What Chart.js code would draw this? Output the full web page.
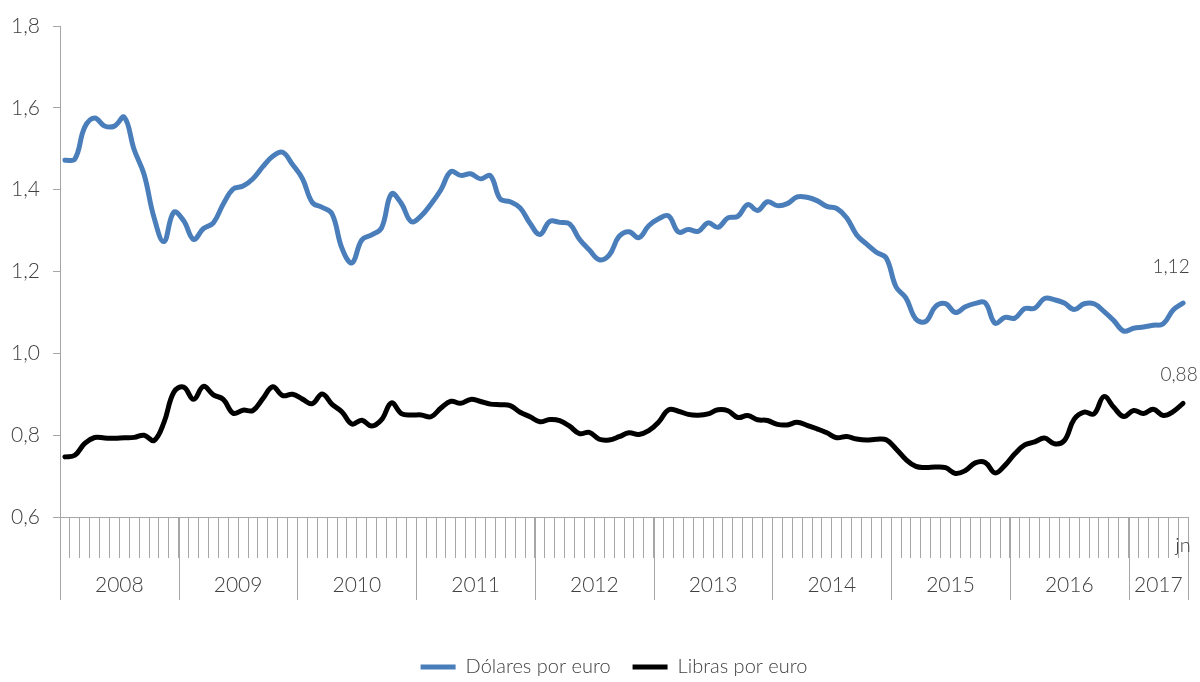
<!DOCTYPE html>
<html>
<head>
<meta charset="utf-8">
<script src="https://cdn.jsdelivr.net/npm/chart.js@4.4.1/dist/chart.umd.min.js"></script>
<style>
  html, body { margin: 0; padding: 0; background: #ffffff; }
  #wrap { width: 1200px; height: 682px; }
</style>
</head>
<body>
<div id="wrap"><canvas id="c" width="1200" height="682"></canvas></div>
<script>
// ---- Data ----
const years = ['2008', '2009', '2010', '2011', '2012', '2013', '2014', '2015', '2016', '2017'];
const monthsPerYear = [12, 12, 12, 12, 12, 12, 12, 12, 12, 6];
const monthCodes = ['en', 'fb', 'mr', 'ab', 'my', 'jn', 'jl', 'ag', 'sp', 'oc', 'nv', 'dc'];
const lastMonthLabel = 'jn';

const dolaresPorEuro = [
  1.4718, 1.4748, 1.5527, 1.5750, 1.5557, 1.5553, 1.5770, 1.4975, 1.4370, 1.3322, 1.2732, 1.3449,
  1.3239, 1.2785, 1.3050, 1.3190, 1.3650, 1.4016, 1.4088, 1.4268, 1.4562, 1.4816, 1.4914, 1.4614,
  1.4272, 1.3686, 1.3569, 1.3406, 1.2565, 1.2209, 1.2770, 1.2894, 1.3067, 1.3898, 1.3661, 1.3220,
  1.3360, 1.3649, 1.3999, 1.4442, 1.4349, 1.4388, 1.4264, 1.4343, 1.3770, 1.3706, 1.3556, 1.3179,
  1.2905, 1.3224, 1.3201, 1.3162, 1.2789, 1.2526, 1.2288, 1.2400, 1.2856, 1.2974, 1.2828, 1.3119,
  1.3288, 1.3359, 1.2964, 1.3026, 1.2982, 1.3189, 1.3080, 1.3310, 1.3348, 1.3635, 1.3493, 1.3704,
  1.3610, 1.3659, 1.3823, 1.3813, 1.3732, 1.3592, 1.3539, 1.3316, 1.2901, 1.2673, 1.2472, 1.2331,
  1.1621, 1.1350, 1.0838, 1.0779, 1.1150, 1.1213, 1.0996, 1.1139, 1.1221, 1.1235, 1.0736, 1.0877,
  1.0860, 1.1093, 1.1100, 1.1339, 1.1311, 1.1229, 1.1069, 1.1212, 1.1212, 1.1026, 1.0799, 1.0543,
  1.0614, 1.0643, 1.0685, 1.0723, 1.1058, 1.1229
];

const librasPorEuro = [
  0.7470, 0.7509, 0.7801, 0.7943, 0.7930, 0.7922, 0.7937, 0.7946, 0.7999, 0.7869, 0.8306, 0.9050,
  0.9176, 0.8876, 0.9192, 0.8986, 0.8876, 0.8536, 0.8611, 0.8603, 0.8891, 0.9182, 0.8967, 0.9000,
  0.8881, 0.8770, 0.9007, 0.8752, 0.8567, 0.8272, 0.8366, 0.8224, 0.8380, 0.8789, 0.8529, 0.8492,
  0.8494, 0.8450, 0.8665, 0.8829, 0.8779, 0.8874, 0.8823, 0.8759, 0.8743, 0.8721, 0.8560, 0.8451,
  0.8328, 0.8384, 0.8357, 0.8219, 0.8037, 0.8069, 0.7901, 0.7883, 0.7962, 0.8058, 0.8019, 0.8109,
  0.8319, 0.8619, 0.8586, 0.8508, 0.8489, 0.8519, 0.8621, 0.8596, 0.8432, 0.8479, 0.8377, 0.8359,
  0.8263, 0.8251, 0.8314, 0.8242, 0.8155, 0.8058, 0.7938, 0.7967, 0.7907, 0.7880, 0.7899, 0.7886,
  0.7663, 0.7405, 0.7236, 0.7212, 0.7223, 0.7204, 0.7064, 0.7135, 0.7323, 0.7333, 0.7078, 0.7262,
  0.7544, 0.7761, 0.7834, 0.7928, 0.7789, 0.7866, 0.8393, 0.8564, 0.8521, 0.8945, 0.8681, 0.8456,
  0.8603, 0.8529, 0.8631, 0.8483, 0.8577, 0.8777
];

const seriesNames = ['Dólares por euro', 'Libras por euro'];
const yMin = 0.6, yMax = 1.8, yStep = 0.2;

// categories built from years / months
const categories = [];
years.forEach((yr, yi) => {
  for (let m = 0; m < monthsPerYear[yi]; m++) categories.push(monthCodes[m] + ' ' + yr);
});

// ---- Styles ----
const FONT = 'Lato, "Open Sans", "DejaVu Sans", sans-serif';
const WEIGHT = '300';
const TEXT = '#404040';
const AXIS = '#a6a6a6';
const BLUE = '#4a7ebb';
const BLACK = '#000000';

const fmt = (v, d) => v.toFixed(d).replace('.', ',');

const axisDecor = {
  id: 'axisDecor',
  afterLayout(chart) {
    // centre the legend under the whole figure like the original
    if (chart.legend) { chart.legend.left += 20; chart.legend.right += 20; }
  },
  afterDraw(chart) {
    const { ctx, chartArea, scales } = chart;
    const x = scales.x;
    const step = x.getPixelForValue(1) - x.getPixelForValue(0);
    const base = chartArea.bottom;
    ctx.save();
    ctx.strokeStyle = AXIS;
    ctx.lineWidth = 1;
    ctx.fillStyle = TEXT;
    ctx.textAlign = 'center';
    ctx.textBaseline = 'middle';
    ctx.font = WEIGHT + ' 21px ' + FONT;
    let start = 0;
    years.forEach((yr, yi) => {
      const n = monthsPerYear[yi];
      const x0 = x.getPixelForValue(start) - step / 2;
      const x1 = x.getPixelForValue(start + n - 1) + step / 2;
      [x0, x1].forEach(px => {
        const ax = Math.round(px) + 0.5;
        ctx.beginPath();
        ctx.moveTo(ax, base);
        ctx.lineTo(ax, base + 83);
        ctx.stroke();
      });
      ctx.fillText(yr, (x0 + x1) / 2, base + 68);
      start += n;
    });
    // last month label
    ctx.font = WEIGHT + ' 20px ' + FONT;
    const lastIdx = categories.length - 1;
    ctx.fillText(lastMonthLabel, x.getPixelForValue(lastIdx), base + 29);

    // end value labels
    ctx.font = WEIGHT + ' 19px ' + FONT;
    const p0 = chart.getDatasetMeta(0).data[lastIdx];
    const p1 = chart.getDatasetMeta(1).data[lastIdx];
    ctx.fillText(fmt(dolaresPorEuro[lastIdx], 2), p0.x - 12, p0.y - 36);
    ctx.fillText(fmt(librasPorEuro[lastIdx], 2), p1.x - 4, p1.y - 28);
    ctx.restore();
  }
};

new Chart(document.getElementById('c'), {
  type: 'line',
  data: {
    labels: categories,
    datasets: [
      {
        label: seriesNames[0],
        data: dolaresPorEuro,
        borderColor: BLUE,
        backgroundColor: BLUE,
        borderWidth: 5,
        pointRadius: 0,
        tension: 0.4,
        borderCapStyle: 'round',
        borderJoinStyle: 'round',
        fill: false
      },
      {
        label: seriesNames[1],
        data: librasPorEuro,
        borderColor: BLACK,
        backgroundColor: BLACK,
        borderWidth: 5,
        pointRadius: 0,
        tension: 0.4,
        borderCapStyle: 'round',
        borderJoinStyle: 'round',
        fill: false
      }
    ]
  },
  options: {
    responsive: false,
    animation: false,
    devicePixelRatio: 1,
    layout: { padding: { top: 26, right: 12, bottom: -5, left: 0 } },
    plugins: {
      legend: {
        position: 'bottom',
        labels: {
          usePointStyle: true,
          pointStyle: 'line',
          pointStyleWidth: 35,
          color: TEXT,
          font: { family: FONT, size: 20, weight: WEIGHT },
          padding: 22
        }
      },
      tooltip: { enabled: false }
    },
    scales: {
      x: {
        type: 'category',
        offset: true,
        grid: {
          display: true,
          offset: true,
          drawOnChartArea: false,
          drawTicks: true,
          tickLength: 41,
          color: AXIS,
          lineWidth: 1
        },
        border: { display: true, color: AXIS, width: 1 },
        ticks: { display: false, autoSkip: false },
        afterFit: (s) => { s.height = 118; }
      },
      y: {
        min: yMin,
        max: yMax,
        grid: {
          display: true,
          drawOnChartArea: false,
          drawTicks: true,
          tickLength: 7,
          color: AXIS
        },
        border: { display: true, color: AXIS, width: 1 },
        ticks: {
          stepSize: yStep,
          padding: 13,
          color: TEXT,
          font: { family: FONT, size: 21, weight: WEIGHT },
          callback: (v) => fmt(v, 1)
        },
        afterFit: (s) => { s.width = 60; }
      }
    }
  },
  plugins: [axisDecor]
});
</script>
</body>
</html>
